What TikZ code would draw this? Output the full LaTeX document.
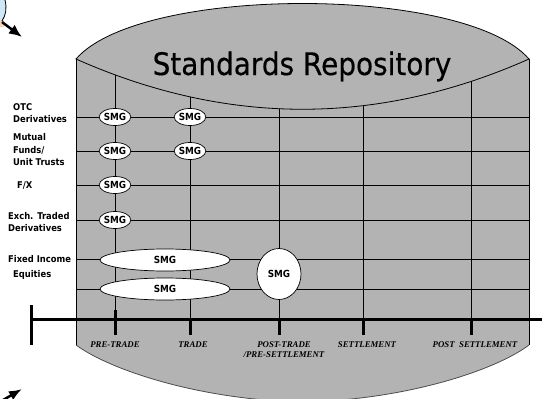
\documentclass[tikz,border=0pt]{standalone}
\usepackage{fontspec}
\setmainfont{Liberation Serif}
\newfontfamily\tahoma[FakeStretch=0.9,FakeBold=0.4]{DejaVu Sans}
\newfontfamily\tahomabold[FakeStretch=0.9]{DejaVu Sans Bold}
\usepackage{tikz}
\usetikzlibrary{arrows.meta,shapes.geometric}
\definecolor{repogray}{RGB}{179,179,179}
\definecolor{clipblue}{RGB}{205,232,246}
\definecolor{clippeach}{RGB}{248,212,178}

\tikzset{
	smg/.style={ellipse, draw=black, line width=0.7pt, fill=white, inner sep=0pt, font=\tahomabold\fontsize{9.8}{10}\selectfont},
	rowlabel/.style={anchor=west, align=left, inner sep=0pt, font=\tahomabold\fontsize{9.3}{12.5}\selectfont},
	phase/.style={anchor=north, align=center, inner sep=0pt, font=\bfseries\itshape\fontsize{8.8}{10}\selectfont},
	gridline/.style={black, line width=0.8pt},
	ticks/.style={black, line width=3pt},
}

\begin{document}
\begin{tikzpicture}[x=1pt,y=-1pt]
	\useasboundingbox (0,0) rectangle (542,399);
	\clip (0,0) rectangle (542,399);
	
	% body of the repository
	\fill[repogray] (76,59) -- (76,345) .. controls (110,370) and (200,400) .. (303,402)
		.. controls (406,400) and (496,370) .. (529,345) -- (529,59) -- cycle;
	\draw[black!70, line width=0.8pt] (76,345) .. controls (110,370) and (200,400) .. (303,402)
		.. controls (406,400) and (496,370) .. (529,345);
	\draw[black, line width=0.8pt] (76,59) -- (76,345);
	\draw[black, line width=0.8pt] (529,59) -- (529,345);
	
	% columns
	\foreach \cx/\cn in {115/pre,190/trade,279/post,363/settle,471/postsettle}{
		\coordinate (top-\cn) at (\cx,50);
		\coordinate (col-\cn) at (\cx,319);
		\draw[gridline] (top-\cn) -- (col-\cn);
	}
	
	% lens
	\filldraw[fill=repogray, draw=black, line width=0.8pt] (76,59) .. controls (140,-15) and (465,-15) .. (529,59)
		.. controls (378,126) and (227,126) .. cycle;
	\node[anchor=base, inner sep=0pt, font=\tahoma\fontsize{31}{36}\selectfont] (title) at (302,75) {Standards Repository};
	
	% rows
	\foreach \ry [count=\i] in {117,151,185,220,259,289}{
		\coordinate (row\i-w) at (76,\ry);
		\coordinate (row\i-e) at (529,\ry);
		\draw[gridline] (row\i-w) -- (row\i-e);
	}
	
	\node[rowlabel] (otc) at (13,113) {OTC\\Derivatives};
	\node[rowlabel] (mutual) at (13,150) {Mutual\\Funds/\\Unit Trusts};
	\node[rowlabel] (fx) at (17,186) {F/X};
	\node[rowlabel] (exch) at (8,222) {Exch. Traded\\Derivatives};
	\node[rowlabel] (fixed) at (8,259) {Fixed Income};
	\node[rowlabel] (equities) at (13,275) {Equities};
	
	% message groups
	\node[smg, minimum width=30pt, minimum height=17pt] (smg-otc-pre) at (115,117) {SMG};
	\node[smg, minimum width=30pt, minimum height=17pt] (smg-otc-trade) at (190,117) {SMG};
	\node[smg, minimum width=30pt, minimum height=17pt] (smg-mf-pre) at (115,151) {SMG};
	\node[smg, minimum width=30pt, minimum height=17pt] (smg-mf-trade) at (190,151) {SMG};
	\node[smg, minimum width=30pt, minimum height=17pt] (smg-fx-pre) at (115,185) {SMG};
	\node[smg, minimum width=30pt, minimum height=17pt] (smg-etd-pre) at (115,220) {SMG};
	\node[smg, minimum width=130pt, minimum height=22pt] (smg-fi) at (165,260) {SMG};
	\node[smg, minimum width=130pt, minimum height=22pt] (smg-eq) at (165,289) {SMG};
	\node[smg, minimum width=44pt, minimum height=51pt] (smg-post) at (279,274) {SMG};
	
	% time line
	\coordinate (axis-w) at (31,319);
	\coordinate (axis-e) at (545,319);
	\draw[ticks] (axis-w) -- (axis-e);
	\draw[ticks] (31,305) -- (31,345);
	\draw[ticks] (115,310) -- (115,335);
	\foreach \cn in {trade,post,settle,postsettle}
		\draw[ticks] (col-\cn) -- ++(0,16);
	
	\node[phase] (lbl-pre) at (115,341) {PRE-TRADE};
	\node[phase] (lbl-trade) at (193,341) {TRADE};
	\node[phase] (lbl-post) at (284,341) {POST-TRADE\\/PRE-SETTLEMENT};
	\node[phase] (lbl-settle) at (367,341) {SETTLEMENT};
	\node[phase] (lbl-postsettle) at (475,341) {POST\ \ SETTLEMENT};
	
	% clip art fragments
	\fill[clipblue] (0,0) -- (5,0) .. controls (7,8) and (6,15) .. (2,21) -- (0,21) -- cycle;
	\fill[clippeach] (0,20) rectangle (4,27);
	\draw[black, line width=0.8pt] (5,0) .. controls (7,8) and (6,15) .. (2,21);
	\coordinate (arr1-s) at (2,22);
	\coordinate (arr1-t) at (22,37);
	\draw[-{Latex[length=13pt,width=11pt]}, line width=2.5pt] (arr1-s) -- (arr1-t);
	\coordinate (arr2-s) at (-14,410);
	\coordinate (arr2-t) at (22,389);
	\draw[-{Latex[length=13pt,width=10pt]}, line width=2.5pt] (arr2-s) -- (arr2-t);
	
\end{tikzpicture}
\end{document}
